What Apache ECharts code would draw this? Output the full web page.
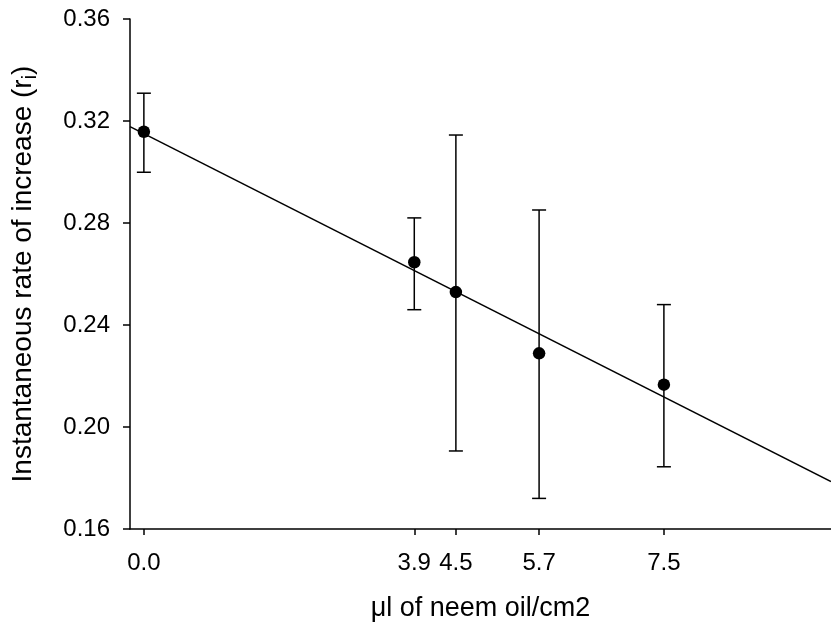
<!DOCTYPE html>
<html>
<head>
<meta charset="utf-8">
<script src="https://cdn.jsdelivr.net/npm/echarts@6/dist/echarts.min.js"></script>
<style>html,body{margin:0;padding:0;background:#fff}#c{width:831px;height:632px}</style>
</head>
<body>
<div id="c"></div>
<script>
// Data
var doses = [0.0, 3.9, 4.5, 5.7, 7.5];
var means = [0.3158, 0.2646, 0.2529, 0.2289, 0.2166];
var upper = [0.3309, 0.2820, 0.3145, 0.2851, 0.2480];
var lower = [0.2999, 0.2460, 0.1906, 0.1720, 0.1844];
// Regression line end points
var fitX = [-0.2, 9.91];
var fitY = [0.3178, 0.1786];
var yTicks = [0.16, 0.20, 0.24, 0.28, 0.32, 0.36];

var FONT = 'Liberation Sans, Arial, sans-serif';
var chart = echarts.init(document.getElementById('c'), null, {renderer: 'canvas'});

var pts = doses.map(function (d, i) { return [d, means[i]]; });
var bars = doses.map(function (d, i) { return [d, lower[i], upper[i]]; });
var fit = fitX.map(function (x, i) { return [x, fitY[i]]; });

chart.setOption({
  animation: false,
  grid: {left: 130, right: 0, top: 19, bottom: 103, containLabel: false, outerBoundsMode: 'none'},
  xAxis: {
    type: 'value', min: -0.2, max: 9.91,
    name: 'μl of neem oil/cm2', nameLocation: 'middle', nameGap: 66,
    nameTextStyle: {fontFamily: FONT, fontSize: 27, color: '#000'},
    axisLine: {show: true, onZero: false, lineStyle: {color: '#000', width: 1.5}},
    axisTick: {show: true, length: 6, lineStyle: {color: '#000', width: 1.5}, customValues: doses},
    axisLabel: {show: true, margin: 22, fontFamily: FONT, fontSize: 24, color: '#000',
      customValues: doses, formatter: function (v) { return v.toFixed(1); }},
    splitLine: {show: false}
  },
  yAxis: {
    type: 'value', min: 0.16, max: 0.36, interval: 0.04,
    name: 'Instantaneous rate of increase (r{sub|i})', nameLocation: 'middle', nameGap: 90,
    nameTextStyle: {fontFamily: FONT, fontSize: 28, color: '#000',
      rich: {sub: {fontFamily: FONT, fontSize: 20, color: '#000', padding: [14, 0, 0, 0]}}},
    axisLine: {show: true, onZero: false, lineStyle: {color: '#000', width: 1.5}},
    axisTick: {show: true, length: 7, lineStyle: {color: '#000', width: 1.5}},
    axisLabel: {margin: 20, fontFamily: FONT, fontSize: 24, color: '#000',
      formatter: function (v) { return v.toFixed(2); }},
    splitLine: {show: false}
  },
  series: [
    {
      type: 'line', data: fit, symbol: 'none', silent: true,
      lineStyle: {color: '#000', width: 1.5}, z: 2
    },
    {
      type: 'custom', data: bars, z: 3,
      renderItem: function (params, api) {
        var x = api.value(0);
        var lo = api.coord([x, api.value(1)]);
        var hi = api.coord([x, api.value(2)]);
        var hw = 7;
        var st = {stroke: '#000', lineWidth: 1.5};
        return {type: 'group', children: [
          {type: 'line', shape: {x1: lo[0], y1: lo[1], x2: hi[0], y2: hi[1]}, style: st},
          {type: 'line', shape: {x1: hi[0] - hw, y1: hi[1], x2: hi[0] + hw, y2: hi[1]}, style: st},
          {type: 'line', shape: {x1: lo[0] - hw, y1: lo[1], x2: lo[0] + hw, y2: lo[1]}, style: st}
        ]};
      }
    },
    {
      type: 'scatter', data: pts, symbol: 'circle', symbolSize: 12.5, z: 4,
      itemStyle: {color: '#000', opacity: 1}
    }
  ]
});
</script>
</body>
</html>
